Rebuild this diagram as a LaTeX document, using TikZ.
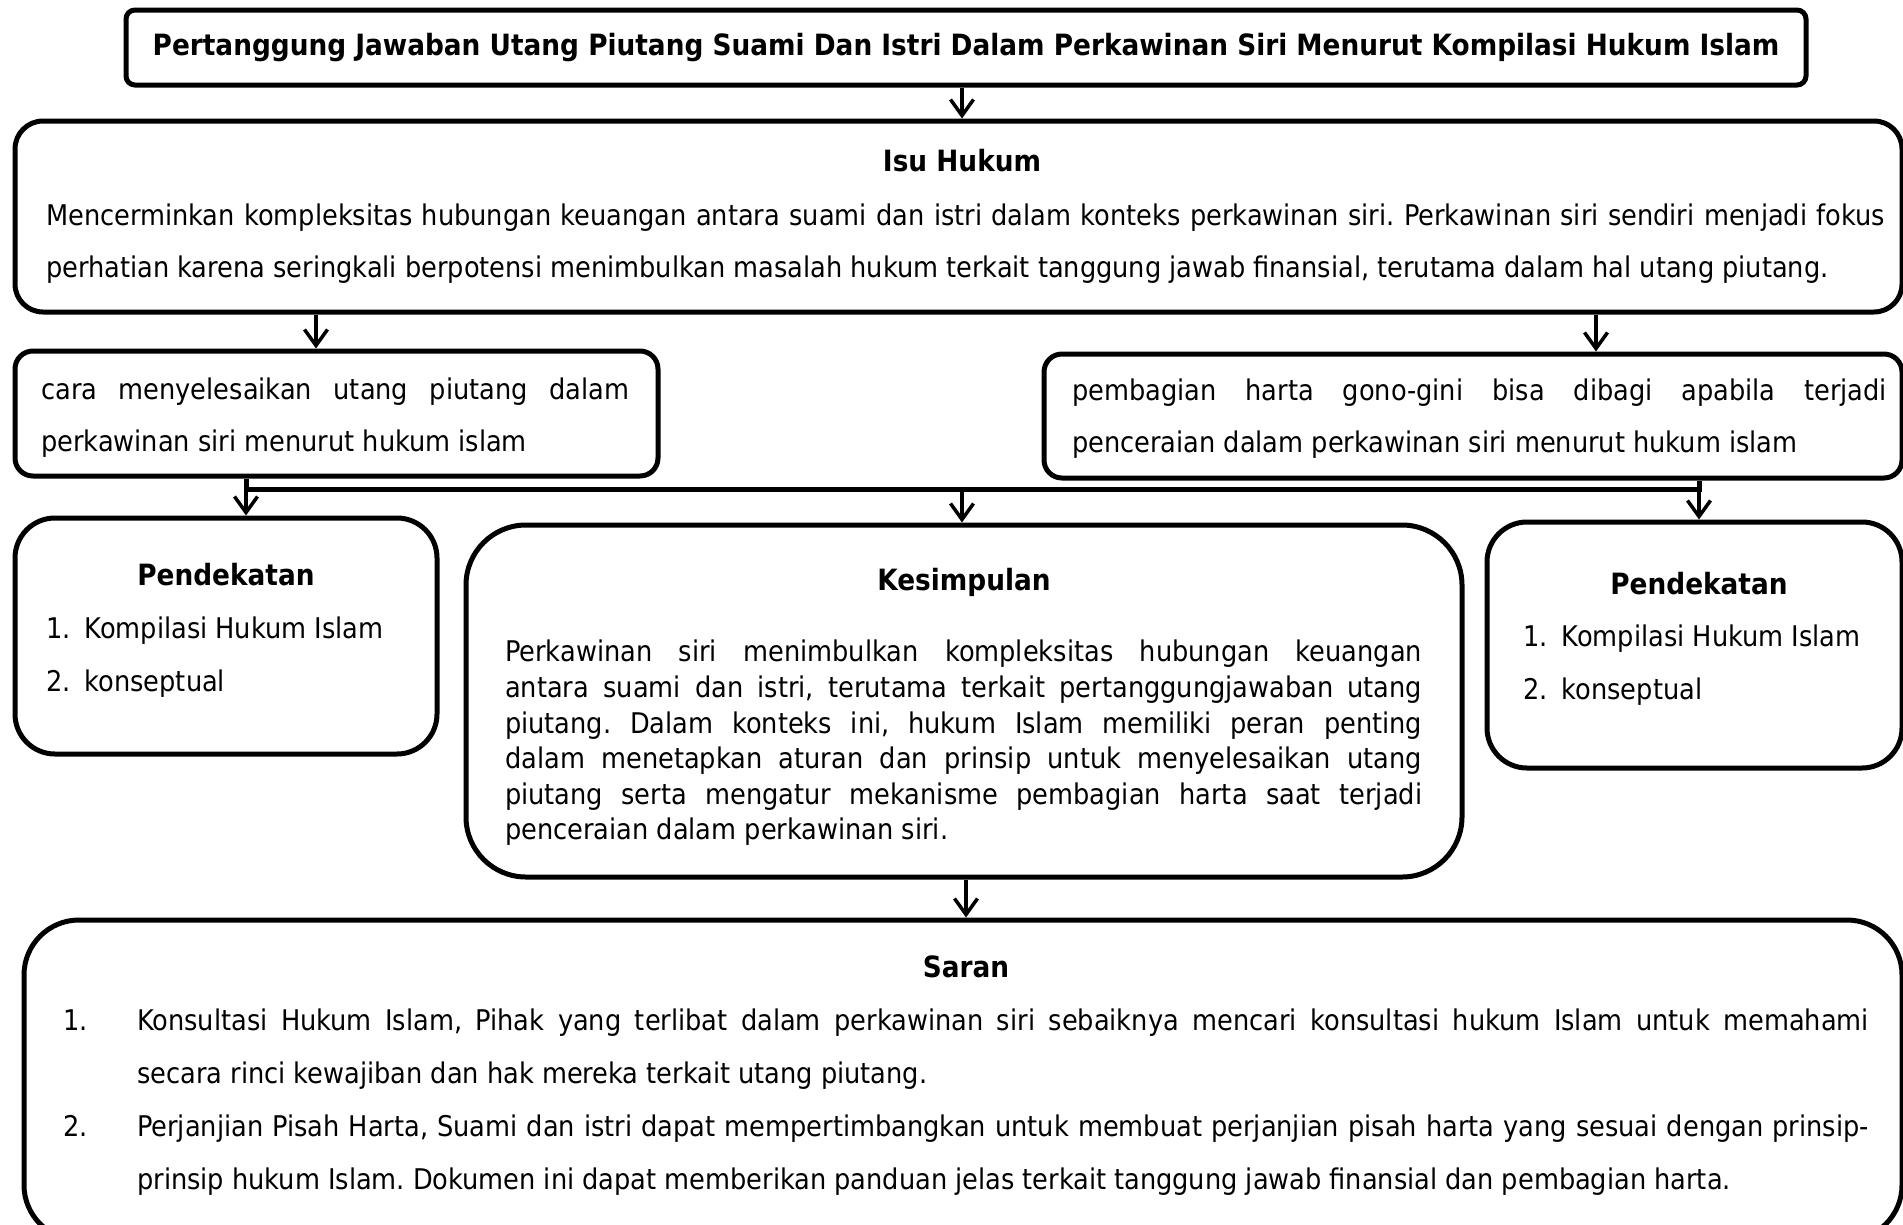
\documentclass[tikz,border=0pt]{standalone}
\usepackage{fontspec}
\setmainfont{DejaVu Sans Condensed}
\usetikzlibrary{arrows.meta}
\hyphenpenalty=10000
\tolerance=10000
\frenchspacing

\begin{document}
\begin{tikzpicture}[x=1pt, y=-1pt,
    kotak/.style={draw, line width=5pt, rounded corners=#1, inner sep=0pt},
    judul/.style={font=\bfseries\fontsize{29.3}{34}\selectfont, anchor=base, inner sep=0pt},
    isi/.style={font=\fontsize{28.5}{#1}\selectfont, anchor=north west, inner sep=0pt, align=justify},
    nomor/.style={font=\fontsize{28.5}{34}\selectfont, anchor=base west, inner sep=0pt},
    panah/.style={line width=3.5pt, -{Straight Barb[length=16pt,width=23pt]}},
    garis/.style={line width=5pt}]
    \useasboundingbox (0,0) rectangle (1903,1224);

    % kotak-kotak
    \node[kotak=9pt, minimum width=1680pt, minimum height=75pt] (judulUtama) at (966,47.5) {};
    \node[kotak=28pt, minimum width=1887pt, minimum height=191pt] (isu) at (958.5,216.5) {};
    \node[kotak=18pt, minimum width=643pt, minimum height=125pt] (kiri) at (336.5,413.5) {};
    \node[kotak=18pt, minimum width=858pt, minimum height=124pt] (kanan) at (1473,416) {};
    \node[kotak=40pt, minimum width=422pt, minimum height=236pt] (pendKiri) at (226,636) {};
    \node[kotak=60pt, minimum width=996pt, minimum height=352pt] (kesimpulan) at (964,701) {};
    \node[kotak=40pt, minimum width=415pt, minimum height=246pt] (pendKanan) at (1694.5,645) {};
    \node[kotak=55pt, minimum width=1878pt, minimum height=320pt] (saran) at (963,1080) {};

    % teks
    \node[judul] (tJudul) at (966,55) {Pertanggung Jawaban Utang Piutang Suami Dan Istri Dalam Perkawinan Siri Menurut Kompilasi Hukum Islam};
    \node[judul] (tIsu) at (962,171) {Isu Hukum};
    \node[isi=52, text width=1839pt] (pIsu) at (46,204) {Mencerminkan kompleksitas hubungan keuangan antara suami dan istri dalam konteks perkawinan siri. Perkawinan siri sendiri menjadi fokus\linebreak perhatian karena seringkali berpotensi menimbulkan masalah hukum terkait tanggung jawab finansial, terutama dalam hal utang piutang.};
    \node[isi=52, text width=588pt] (pKiri) at (41,378) {cara menyelesaikan utang piutang dalam\linebreak perkawinan siri menurut hukum islam};
    \node[isi=52, text width=815pt] (pKanan) at (1072,379) {pembagian harta gono-gini bisa dibagi apabila terjadi\linebreak penceraian dalam perkawinan siri menurut hukum islam};

    \node[judul] (tPendKiri) at (226,585) {Pendekatan};
    \node[isi=53, align=left] (lPendKiri) at (46,617) {1.\ \hspace{6pt}Kompilasi Hukum Islam\\2.\ \hspace{6pt}konseptual};
    \node[judul] (tPendKanan) at (1699,594) {Pendekatan};
    \node[isi=53, align=left] (lPendKanan) at (1523,625) {1.\ \hspace{6pt}Kompilasi Hukum Islam\\2.\ \hspace{6pt}konseptual};

    \node[judul] (tKesimpulan) at (964,590) {Kesimpulan};
    \node[isi=35.6, text width=917pt] (pKesimpulan) at (505,640) {Perkawinan siri menimbulkan kompleksitas hubungan keuangan\linebreak antara suami dan istri, terutama terkait pertanggungjawaban utang\linebreak piutang. Dalam konteks ini, hukum Islam memiliki peran penting\linebreak dalam menetapkan aturan dan prinsip untuk menyelesaikan utang\linebreak piutang serta mengatur mekanisme pembagian harta saat terjadi\linebreak penceraian dalam perkawinan siri.};

    \node[judul] (tSaran) at (966,977) {Saran};
    \node[nomor] (n1) at (63,1030) {1.};
    \node[isi=53, text width=1732pt] (pSaran1) at (137,1009) {Konsultasi Hukum Islam, Pihak yang terlibat dalam perkawinan siri sebaiknya mencari konsultasi hukum Islam untuk memahami\linebreak secara rinci kewajiban dan hak mereka terkait utang piutang.};
    \node[nomor] (n2) at (63,1136) {2.};
    \node[isi=53, text width=1732pt] (pSaran2) at (137,1115) {Perjanjian Pisah Harta, Suami dan istri dapat mempertimbangkan untuk membuat perjanjian pisah harta yang sesuai dengan prinsip-\linebreak prinsip hukum Islam. Dokumen ini dapat memberikan panduan jelas terkait tanggung jawab finansial dan pembagian harta.};

    % penghubung
    \coordinate (xA) at (246,0);
    \coordinate (xB) at (962,0);
    \coordinate (xC) at (1699,0);
    \coordinate (xD) at (966,0);
    \coordinate (xKiri) at (316,0);
    \coordinate (xKanan) at (1596,0);
    \coordinate (jalur) at (0,489);

    \draw[panah] (judulUtama.south -| xB) -- (isu.north -| xB);
    \draw[panah] (isu.south -| xKiri) -- (kiri.north -| xKiri);
    \draw[panah] (isu.south -| xKanan) -- (kanan.north -| xKanan);
    \draw[garis] (kiri.south -| xA) -- (jalur -| xA) -- (jalur -| xC) -- (kanan.south -| xC);
    \draw[panah] (jalur -| xA) -- (pendKiri.north -| xA);
    \draw[panah] (jalur -| xB) -- (kesimpulan.north -| xB);
    \draw[panah] (jalur -| xC) -- (pendKanan.north -| xC);
    \draw[panah] (kesimpulan.south -| xD) -- (saran.north -| xD);
\end{tikzpicture}
\end{document}
